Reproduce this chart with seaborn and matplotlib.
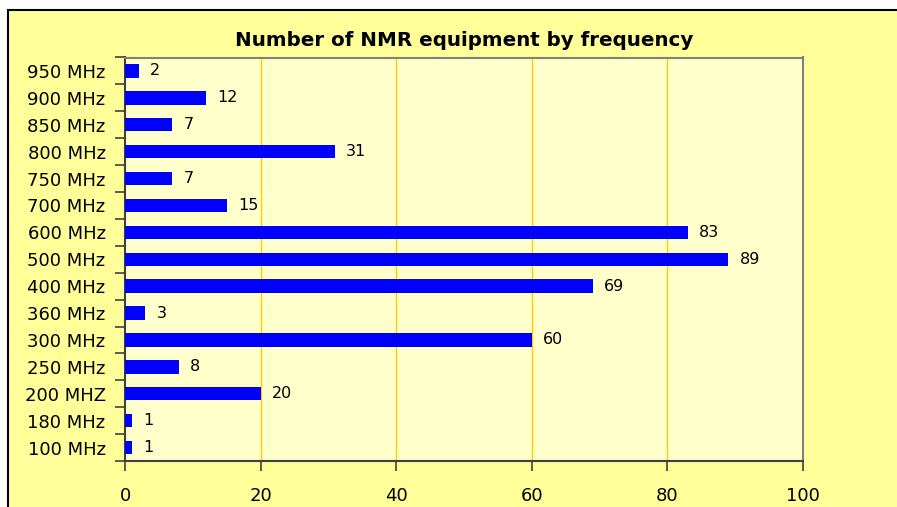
import matplotlib
matplotlib.use('Agg')
import matplotlib.pyplot as plt
import seaborn as sns
import pandas as pd
from matplotlib.patches import Rectangle

# data, top row first as in the chart
frequencies = ['950 MHz', '900 MHz', '850 MHz', '800 MHz', '750 MHz', '700 MHz',
               '600 MHz', '500 MHz', '400 MHz', '360 MHz', '300 MHz', '250 MHz',
               '200 MHZ', '180 MHz', '100 MHz']
counts = [2, 12, 7, 31, 7, 15, 83, 89, 69, 3, 60, 8, 20, 1, 1]
x_ticks = [0, 20, 40, 60, 80, 100]

df = pd.DataFrame({'frequency': frequencies, 'count': counts})

sns.set_style('white')
plt.rcParams['font.family'] = ['DejaVu Sans']
plt.rcParams['text.color'] = 'black'
plt.rcParams['xtick.color'] = 'black'
plt.rcParams['ytick.color'] = 'black'

W, H = 897, 507
fig = plt.figure(figsize=(W / 100, H / 100), dpi=100, facecolor='white')

# chart area (yellow box with black border, running off right/bottom edge)
fig.patches.append(Rectangle((8 / W, -0.05), 1.0, 1 - 10 / H + 0.05,
                             transform=fig.transFigure, facecolor='#FFFF99',
                             edgecolor='black', linewidth=1.5, zorder=-10))

left, right, top, bottom = 125, 803, 57.5, 461
ax = fig.add_axes([left / W, 1 - bottom / H, (right - left) / W, (bottom - top) / H])
ax.set_facecolor('#FFFFCC')

sns.barplot(data=df, x='count', y='frequency', order=frequencies, orient='h',
            color='#0000FF', width=0.5, saturation=1, linewidth=0, ax=ax, zorder=3)

ax.bar_label(ax.containers[0], labels=[str(c) for c in counts], padding=8,
             fontsize=11.5, color='black')

ax.set_xlim(0, 100)
ax.set_xticks(x_ticks)
ax.set_xticklabels([str(t) for t in x_ticks], fontsize=13)
ax.set_ylim(len(frequencies) - 0.5, -0.5)
ax.set_xlabel('')
ax.set_ylabel('')

# gold vertical gridlines
for t in x_ticks[1:-1]:
    ax.axvline(t, color='#FFCC00', linewidth=1, zorder=1)

# category ticks between the bars
ax.set_yticks(range(len(frequencies)))
ax.set_yticklabels(frequencies, fontsize=13)
ax.set_yticks([i - 0.5 for i in range(len(frequencies) + 1)], minor=True)
ax.tick_params(axis='y', which='major', length=0, pad=14)
ax.tick_params(axis='y', which='minor', length=7, width=1.2, color='#404040', direction='out', left=True)
ax.tick_params(axis='x', length=7, width=1.2, color='#404040', direction='out', pad=12, bottom=True)

for s in ['left', 'bottom']:
    ax.spines[s].set_color('#404040')
    ax.spines[s].set_linewidth(1.5)
for s in ['top', 'right']:
    ax.spines[s].set_color('#808080')
    ax.spines[s].set_linewidth(1.5)

fig.text(0.5 * (left + right) / W, 1 - 40 / H, 'Number of NMR equipment by frequency',
         ha='center', va='center', fontsize=14.3, fontweight='bold', color='black')

fig.savefig('out.png', dpi=100, facecolor='white')
